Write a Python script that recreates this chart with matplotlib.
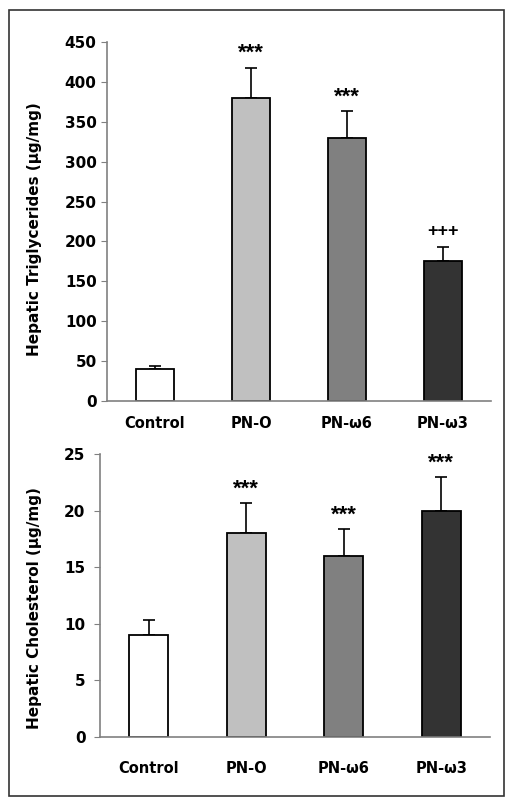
import matplotlib.pyplot as plt
import matplotlib.patches as mpatches
import numpy as np

plt.rcParams['font.family'] = ['DejaVu Sans']

# data
groups = ['Control', 'PN-O', 'PN-\u03c96', 'PN-\u03c93']
tg_mean = [40, 380, 330, 175]
tg_err = [4, 38, 33, 18]
tg_marks = ['', '***', '***', '+++']
chol_mean = [9, 18, 16, 20]
chol_err = [1.3, 2.7, 2.4, 3.0]
chol_marks = ['', '***', '***', '***']
bar_colors = ['#ffffff', '#c0c0c0', '#808080', '#333333']

fig = plt.figure(figsize=(5.13, 8.05), dpi=100)
fig.patches.append(mpatches.Rectangle((9/513, 1-796/805), 495/513, 786/805,
                                      transform=fig.transFigure, fill=False,
                                      edgecolor='#333333', linewidth=1.2))

def draw_panel(ax, means, errs, marks, ymax, step, ylabel, xpad, ypad):
    x = np.arange(len(groups)) + 0.5
    ax.bar(x, means, width=0.4, color=bar_colors, edgecolor='black', linewidth=1.3, zorder=2)
    ax.errorbar(x, means, yerr=[[0]*len(errs), errs], fmt='none', ecolor='black',
                elinewidth=1.2, capsize=4, capthick=1.2, zorder=1)
    for xi, m, e, s in zip(x, means, errs, marks):
        if s == '***':
            ax.annotate(s, (xi, m + e), xytext=(0, 6), textcoords='offset points',
                        ha='center', va='baseline', fontsize=16, fontweight='bold',
                        family='Liberation Sans')
        elif s:
            ax.annotate(s, (xi, m + e), xytext=(0, 8), textcoords='offset points',
                        ha='center', va='baseline', fontsize=13, fontweight='bold',
                        family='Liberation Sans')
    ax.set_xlim(0, len(groups))
    ax.set_ylim(0, ymax)
    ax.set_yticks(np.arange(0, ymax + 1e-9, step))
    ax.set_xticks(x)
    ax.set_xticklabels(groups, fontsize=10.5, fontweight='bold')
    ax.tick_params(axis='x', length=0, pad=xpad)
    ax.tick_params(axis='y', direction='out', length=4, color='#808080', labelsize=11, pad=ypad)
    for lbl in ax.get_yticklabels():
        lbl.set_fontweight('bold')
    for side in ['top', 'right']:
        ax.spines[side].set_visible(False)
    for side in ['left', 'bottom']:
        ax.spines[side].set_color('#808080')
        ax.spines[side].set_linewidth(1.2)
    ax.set_ylabel(ylabel, fontsize=11, fontweight='bold')

ax1 = fig.add_axes([107/513, 1-401/805, 384/513, 359/805])
draw_panel(ax1, tg_mean, tg_err, tg_marks, 450, 50, 'Hepatic Triglycerides (\u00b5g/mg)', 11, 3.5)
ax1.yaxis.set_label_coords(-0.169, 0.48)

ax2 = fig.add_axes([100/513, 1-737/805, 390/513, 283/805])
draw_panel(ax2, chol_mean, chol_err, chol_marks, 25, 5, 'Hepatic Cholesterol (\u00b5g/mg)', 17, 6.5)
ax2.yaxis.set_label_coords(-0.149, 0.456)

fig.savefig('out.png', dpi=100)
